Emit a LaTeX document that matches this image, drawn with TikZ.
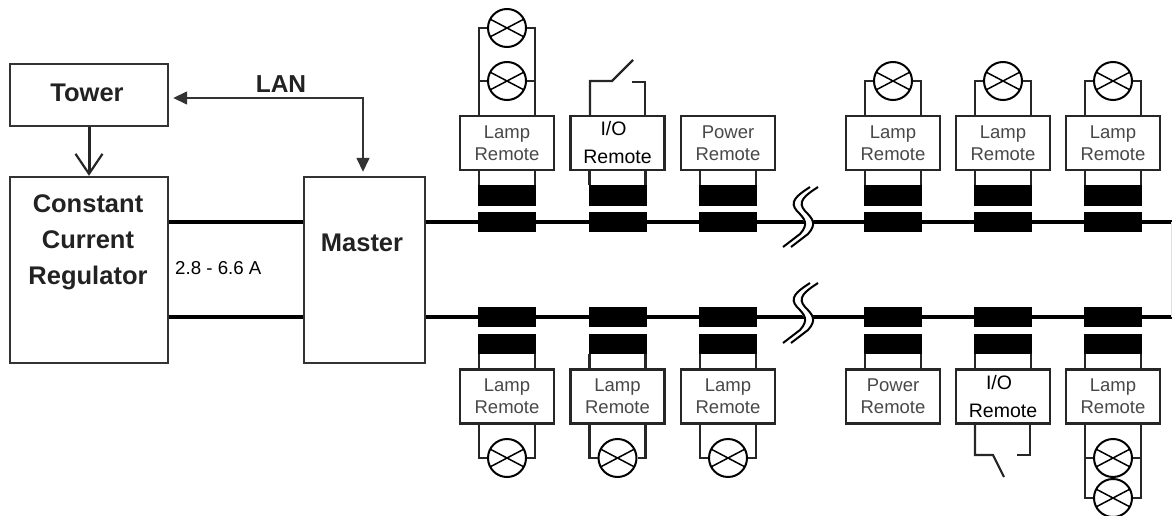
\documentclass[tikz,border=0pt]{standalone}
\usepackage{fontspec}
\setmainfont{Liberation Sans}
\usetikzlibrary{arrows.meta,calc}
\definecolor{inkdark}{HTML}{222222}
\definecolor{inkgrey}{HTML}{484848}
\tikzset{wire/.style={line width=2.2pt,black!85},bus/.style={line width=4pt},
 mainbox/.style={draw=black!80,line width=2.4pt,inner sep=0pt},
 bigtext/.style={font=\fontsize{25.5}{36}\bfseries\selectfont,text=inkdark,align=center},
 remote/.style={draw=black!85,line width=2.4pt,minimum width=94pt,minimum height=54pt,inner sep=0pt,align=center,
  font=\fontsize{18.5}{22}\selectfont,text=inkgrey},
 ioremote/.style={remote,font=\fontsize{19.5}{28}\selectfont,text=black},
 core/.style={fill=black,minimum width=58pt,minimum height=20.5pt,inner sep=0pt,outer sep=0pt},
 lamp/.style={circle,draw,line width=2pt,fill=white,minimum size=38pt,inner sep=0pt,
  path picture={\draw[line width=1.5pt] ([shift={(-19,-10)}]path picture bounding box.center)--([shift={(19,10)}]path picture bounding box.center);
   \draw[line width=1.5pt] ([shift={(-19,10)}]path picture bounding box.center)--([shift={(19,-10)}]path picture bounding box.center);}},
 linebreak/.pic={\draw[white,line width=9pt] (14,-30)..controls (0,-21) and (-7,-15)..(1,-6)..controls (9,2) and (13,7)..(4,17)--(-13,30);
  \foreach \dx in {0,8} {\draw[line width=2pt,shift={(\dx,0)}] (10,-30)..controls (-4,-21) and (-11,-15)..(-3,-6)..controls (5,2) and (9,7)..(0,17)--(-17,30);}}}
\begin{document}
\begin{tikzpicture}[x=1pt,y=-1pt]
\useasboundingbox (0,0) rectangle (1172,516);
\node[mainbox,minimum width=158pt,minimum height=62pt] (tower) at (89,95) {};
\node[mainbox,minimum width=158pt,minimum height=186pt] (ccr) at (89,270) {};
\node[mainbox,minimum width=121pt,minimum height=186pt] (master) at (364.5,270) {};
\node[bigtext] (towertext) at (87,93) {Tower};
\node[bigtext] (ccrtext) at (88,242) {Constant\\Current\\Regulator};
\node[bigtext] (mastertext) at (362,243) {Master};
\node[bigtext,font=\fontsize{24.5}{30}\bfseries\selectfont] (lan) at (281,84) {LAN};
\node[anchor=west,inner sep=0pt,font=\fontsize{18.7}{22}\selectfont] (amps) at (175,268) {2.8 - 6.6 A};
\draw[line width=3pt,black!85,-{Straight Barb[length=20pt,width=27pt,line width=2.2pt]}] (tower.south)--(ccr.north);
\draw[line width=1.5pt,black!80,{Triangle[length=14pt,width=13pt]}-{Triangle[length=14pt,width=13pt]}]
 ([xshift=4pt,yshift=-3pt]tower.east)-|([xshift=-1.5pt,yshift=4pt]master.north);
% current loop
\coordinate (busT) at (1172,222);
\coordinate (busB) at (1172,317);
\draw[bus] (ccr.east|-busT)--(master.west|-busT);
\draw[bus] (ccr.east|-busB)--(master.west|-busB);
\draw[bus] (master.east|-busT)--(busT);
\draw[bus] (master.east|-busB)--(busB);
\draw[black!12,line width=1pt] ([xshift=-1pt]busT)--([xshift=-1pt]busB);
\pic at (800,217) {linebreak};
\pic at (800,313) {linebreak};
% upper row
\foreach \i/\x/\kind in {1/507/Lamp,3/728/Power,4/893/Lamp,5/1003/Lamp,6/1113/Lamp} {
 \node[remote] (remT\i) at (\x,143) {\kind\\Remote};
}
\node[ioremote] (remT2) at (617.5,143) {I/O\kern8pt\\Remote};
\foreach \i in {1,...,6} {
 \node[core] (coreT\i) at (remT\i|-busT) {};
 \node[core] (pickT\i) at ($(remT\i|-busT)+(0,-26.5)$) {};
 \draw[wire] ([xshift=1pt]pickT\i.north west)--([xshift=1pt]pickT\i.north west|-remT\i.south);
 \draw[wire] ([xshift=-1pt]pickT\i.north east)--([xshift=-1pt]pickT\i.north east|-remT\i.south);
}
\foreach \i in {1,4,5,6} {
 \node[lamp] (lampT\i) at (remT\i|-0,81) {};
 \draw[wire] ([xshift=-28pt]remT\i.north)|-(lampT\i);
 \draw[wire] ([xshift=28pt]remT\i.north)|-(lampT\i);
}
\node[lamp] (lampT0) at (remT1|-0,28) {};
\draw[wire] ([xshift=-28pt]remT1.north)|-(lampT0);
\draw[wire] ([xshift=28pt]remT1.north)|-(lampT0);
\coordinate (swT) at (612,81);
\coordinate (swTend) at (633,60);
\coordinate (swTfix) at (632,82);
\draw[wire] ([xshift=-27.5pt]remT2.north)|-(swT)--(swTend);
\draw[wire] ([xshift=27.5pt]remT2.north)|-(swTfix);
% lower row
\foreach \i/\x/\kind in {1/507/Lamp,2/617.5/Lamp,3/728/Lamp,4/893/Power,6/1113/Lamp} {
 \node[remote] (remB\i) at (\x,396.5) {\kind\\Remote};
}
\node[ioremote] (remB5) at (1003,396.5) {I/O\kern8pt\\Remote};
\foreach \i in {1,...,6} {
 \node[core] (coreB\i) at (remB\i|-busB) {};
 \node[core] (pickB\i) at ($(remB\i|-busB)+(0,27)$) {};
 \draw[wire] ([xshift=1pt]pickB\i.south west)--([xshift=1pt]pickB\i.south west|-remB\i.north);
 \draw[wire] ([xshift=-1pt]pickB\i.south east)--([xshift=-1pt]pickB\i.south east|-remB\i.north);
}
\foreach \i in {1,2,3,6} {
 \node[lamp] (lampB\i) at (remB\i|-0,458) {};
 \draw[wire] ([xshift=-28pt]remB\i.south)|-(lampB\i);
 \draw[wire] ([xshift=28pt]remB\i.south)|-(lampB\i);
}
\node[lamp] (lampB0) at (remB6|-0,498) {};
\draw[wire] ([xshift=-28pt]remB6.south)|-(lampB0);
\draw[wire] ([xshift=28pt]remB6.south)|-(lampB0);
\coordinate (swB) at (993,455);
\coordinate (swBend) at (1004,477);
\coordinate (swBfix) at (1017,455);
\draw[wire] ([xshift=-28pt]remB5.south)|-(swB)--(swBend);
\draw[wire] ([xshift=27pt]remB5.south)|-(swBfix);
\end{tikzpicture}
\end{document}
